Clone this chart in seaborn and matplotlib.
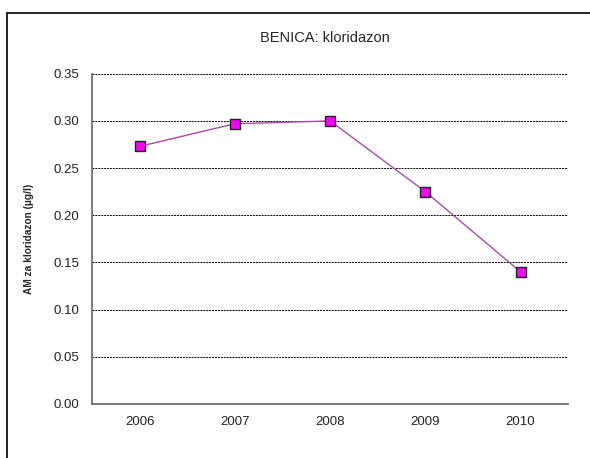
import matplotlib
matplotlib.use("Agg")
import matplotlib.pyplot as plt
from matplotlib.lines import Line2D
import seaborn as sns
import pandas as pd

years = ["2006", "2007", "2008", "2009", "2010"]
values = [0.273, 0.297, 0.300, 0.225, 0.140]
y_ticks = [0.00, 0.05, 0.10, 0.15, 0.20, 0.25, 0.30, 0.35]

df = pd.DataFrame({"pos": range(len(years)), "year": years, "value": values})

sns.set_style("white")
plt.rcParams["font.family"] = ["Liberation Sans", "DejaVu Sans"]

fig = plt.figure(figsize=(5.9, 4.58), dpi=100)
ax = fig.add_axes([0.156, 0.118, 0.807, 0.721])

sns.lineplot(data=df, x="pos", y="value", ax=ax, color="#A64CA6", linewidth=1.0,
             marker="s", markersize=6.8, markerfacecolor="#FF00FF",
             markeredgecolor="#202020", markeredgewidth=1.0, zorder=3)

ax.set_xlim(-0.5, len(years) - 0.5)
ax.set_ylim(0, 0.35)
ax.set_yticks(y_ticks)
ax.set_yticklabels([f"{v:.2f}" for v in y_ticks], fontsize=9.5, color="#222222")

# category boundaries get the tick marks, centers carry the labels
ax.set_xticks([i - 0.5 for i in range(len(years) + 1)])
ax.set_xticklabels([])
ax.set_xticks(list(range(len(years))), minor=True)
ax.set_xticklabels(years, minor=True, fontsize=9.5, color="#222222")
ax.tick_params(axis="x", which="major", direction="out", length=5, width=1, color="#555555")
ax.tick_params(axis="x", which="minor", length=0, pad=9)
ax.tick_params(axis="y", direction="out", length=5, width=1, color="#555555", pad=4)

for v in y_ticks[1:]:
    ax.axhline(v, color="black", linestyle=(0, (2, 1)), linewidth=0.7, zorder=1)

for side in ("top", "right"):
    ax.spines[side].set_visible(False)
for side in ("left", "bottom"):
    ax.spines[side].set_visible(True)
    ax.spines[side].set_color("#6e6e6e")
    ax.spines[side].set_linewidth(1.3)

ax.set_xlabel("")
ax.set_ylabel("AM za kloridazon (µg/l)", fontsize=7.3, fontweight="bold", labelpad=14)
ax.set_title("BENICA: kloridazon", fontsize=10.5, pad=23, x=0.49)

# outer chart frame
fig.add_artist(Line2D([7 / 590, 7 / 590], [0, 1 - 13 / 458], color="black", linewidth=1.2))
fig.add_artist(Line2D([7 / 590, 1], [1 - 13 / 458, 1 - 13 / 458], color="black", linewidth=1.2))

fig.savefig("out.png", dpi=100)
